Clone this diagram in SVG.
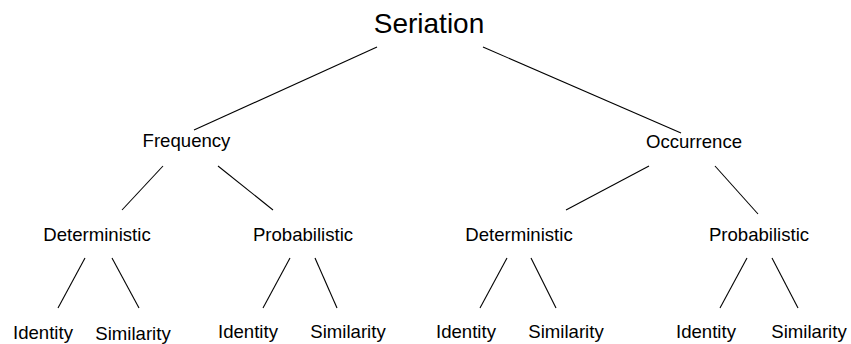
<svg xmlns="http://www.w3.org/2000/svg" width="851" height="344" viewBox="0 0 851 344">
<style>
text{font-family:"Liberation Sans",Arial,sans-serif;font-size:18.6px;fill:#000;text-anchor:middle}
.root{font-size:28px}
line{stroke:#000;stroke-width:1.1}
</style>
<rect width="851" height="344" fill="#fff"/>
<g id="connectors">
<line x1="377" y1="47" x2="194" y2="130"/>
<line x1="483" y1="47" x2="681" y2="133"/>
<line x1="163" y1="166" x2="122" y2="210"/>
<line x1="218" y1="166" x2="273" y2="210"/>
<line x1="649" y1="166" x2="566" y2="210"/>
<line x1="715" y1="166" x2="758" y2="214"/>
<line x1="85" y1="258" x2="58" y2="308"/>
<line x1="112" y1="258" x2="139" y2="308"/>
<line x1="290" y1="258" x2="263" y2="308"/>
<line x1="315" y1="258" x2="337" y2="308"/>
<line x1="507" y1="258" x2="480" y2="308"/>
<line x1="531" y1="258" x2="556" y2="308"/>
<line x1="747" y1="258" x2="720" y2="308"/>
<line x1="772" y1="258" x2="798" y2="308"/>
</g>
<g id="seriation"><text class="root" x="429" y="33">Seriation</text></g>
<g id="frequency"><text x="186.5" y="147">Frequency</text></g>
<g id="occurrence"><text x="694" y="148">Occurrence</text></g>
<g id="freq-det"><text x="97" y="241">Deterministic</text></g>
<g id="freq-prob"><text x="303" y="241">Probabilistic</text></g>
<g id="occ-det"><text x="519" y="241">Deterministic</text></g>
<g id="occ-prob"><text x="759" y="241">Probabilistic</text></g>
<g id="fd-identity"><text x="43" y="339">Identity</text></g>
<g id="fd-similarity"><text x="133" y="340">Similarity</text></g>
<g id="fp-identity"><text x="248" y="338">Identity</text></g>
<g id="fp-similarity"><text x="348" y="338">Similarity</text></g>
<g id="od-identity"><text x="466" y="338">Identity</text></g>
<g id="od-similarity"><text x="566" y="338">Similarity</text></g>
<g id="op-identity"><text x="706" y="338">Identity</text></g>
<g id="op-similarity"><text x="809" y="338">Similarity</text></g>
</svg>
